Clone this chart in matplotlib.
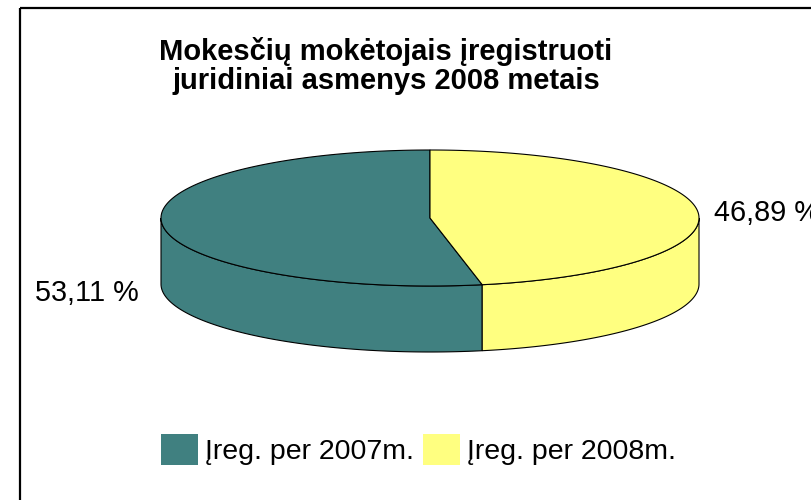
import numpy as np
import matplotlib.pyplot as plt
from matplotlib.patches import Polygon, Rectangle, Patch

# data
title = 'Mokesčių mokėtojais įregistruoti\njuridiniai asmenys 2008 metais'
labels = ['Įreg. per 2007m.', 'Įreg. per 2008m.']
shares = [53.11, 46.89]
colors = ['#408080', '#ffff80']

plt.rcParams['font.family'] = ['Liberation Sans', 'DejaVu Sans']

fig = plt.figure(figsize=(8.11, 5), dpi=100)
ax = fig.add_axes([0, 0, 1, 1])
ax.set_xlim(0, 811)
ax.set_ylim(500, 0)
ax.axis('off')

# 3d pie geometry (pixels)
cx, cy, rx, ry, depth = 430, 218, 269, 68, 66


def ring(t0, t1, dy=0, n=200):
    t = np.radians(np.linspace(t0, t1, n))
    return np.column_stack([cx + rx * np.cos(t), cy - ry * np.sin(t) + dy])


angles = 90 + 360 * np.cumsum([0] + shares) / sum(shares)

# side walls (front half only)
for i, c in enumerate(colors):
    t0, t1 = angles[i], angles[i + 1]
    for k in (180, 540):
        lo, hi = max(t0, k), min(t1, k + 180)
        if lo < hi:
            pts = np.vstack([ring(lo, hi), ring(hi, lo, dy=depth)])
            ax.add_patch(Polygon(pts, closed=True, facecolor=c,
                                 edgecolor='black', lw=0.8))

# top faces
for i, c in enumerate(colors):
    t0, t1 = angles[i], angles[i + 1]
    pts = np.vstack([[cx, cy], ring(t0, t1)])
    ax.add_patch(Polygon(pts, closed=True, facecolor=c,
                         edgecolor='black', lw=0.8))

# percent labels
for i, s in enumerate(shares):
    mid = np.radians((angles[i] + angles[i + 1]) / 2)
    px = cx + rx * np.cos(mid)
    py = cy - ry * np.sin(mid)
    if np.cos(mid) >= 0:
        x, ha = px + 16, 'left'
    else:
        x, ha = px - 24, 'right'
    y = py + (depth if np.sin(mid) < 0 else 0) + 2
    ax.text(x, y, f'{s:.2f} %'.replace('.', ','), ha=ha, va='center',
            fontsize=20.8, color='black')

# title
ax.text(386, 66, title, ha='center', va='center', fontsize=21,
        fontweight='bold', linespacing=1.08)

# frame
ax.add_patch(Rectangle((20, 8), 1000, 1000, fill=False,
                       edgecolor='black', lw=1.6))

# legend
handles = [Patch(facecolor=c, edgecolor='none') for c in colors]
ax.legend(handles, labels, loc='center left', bbox_to_anchor=(161, 449.5),
          bbox_transform=ax.transData, ncol=2, frameon=False, fontsize=20.5,
          handlelength=1.3, handleheight=1.3, handletextpad=0.25,
          columnspacing=0.32, borderpad=0, borderaxespad=0)

fig.savefig('out.png', dpi=100)
